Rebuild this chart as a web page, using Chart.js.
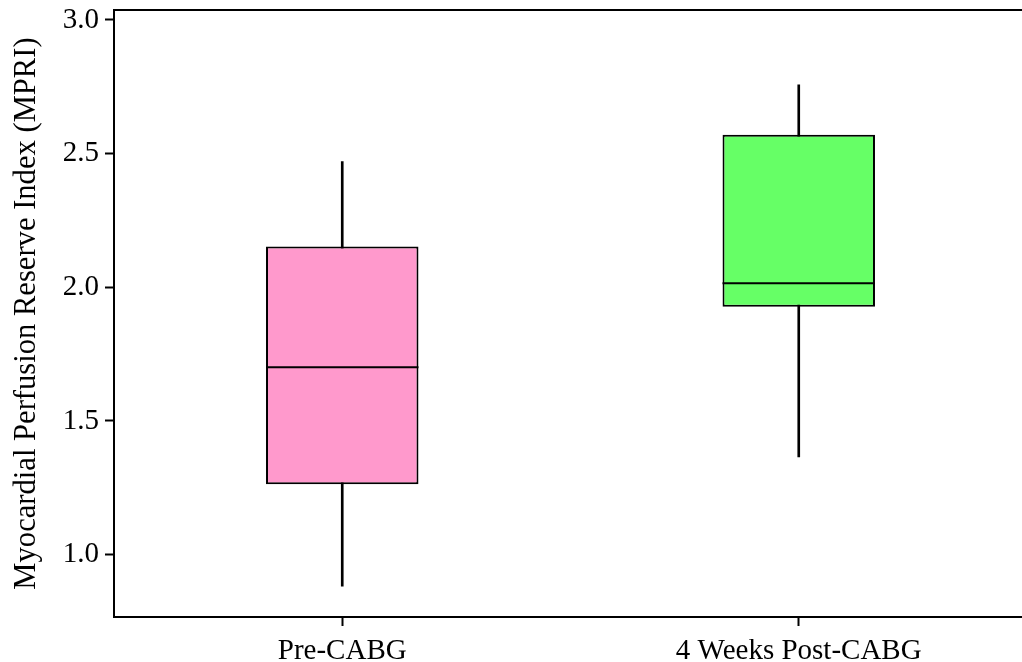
<!DOCTYPE html>
<html>
<head>
<meta charset="utf-8">
<script src="https://cdn.jsdelivr.net/npm/chart.js@4"></script>
<style>
  html, body { margin: 0; padding: 0; background: #fff; overflow: hidden; }
</style>
</head>
<body>
<canvas id="myChart" width="1027" height="662"></canvas>
<script>
var groups = ['Pre-CABG', '4 Weeks Post-CABG'];
var whiskerLow = [0.882, 1.365];
var q1 = [1.263, 1.927];
var medians = [1.701, 2.015];
var q3 = [2.152, 2.570];
var whiskerHigh = [2.470, 2.757];
var boxColors = ['#FF99CC', '#66FF66'];
var yTicks = [1.0, 1.5, 2.0, 2.5, 3.0];

var serif = '"Liberation Serif", "Times New Roman", serif';

// median lines and top frame line, placed with the chart's own scales
var boxExtras = {
    id: 'boxExtras',
    afterDatasetsDraw: function (chart) {
        var ctx = chart.ctx;
        var yScale = chart.scales.y;
        var meta = chart.getDatasetMeta(0);
        ctx.save();
        ctx.strokeStyle = '#000';
        ctx.lineWidth = 2;
        meta.data.forEach(function (bar, i) {
            var y = yScale.getPixelForValue(medians[i]);
            ctx.beginPath();
            ctx.moveTo(bar.x - bar.width / 2, y);
            ctx.lineTo(bar.x + bar.width / 2, y);
            ctx.stroke();
        });
        var area = chart.chartArea;
        ctx.beginPath();
        ctx.moveTo(area.left - 1, area.top);
        ctx.lineTo(area.right, area.top);
        ctx.stroke();
        ctx.restore();
    }
};

var ctx = document.getElementById('myChart').getContext('2d');
var myChart = new Chart(ctx, {
    type: 'bar',
    data: {
        labels: groups,
        datasets: [{
            label: 'IQR',
            data: groups.map((g, i) => [q1[i], q3[i]]),
            backgroundColor: boxColors,
            borderColor: '#000',
            borderWidth: 2,
            borderSkipped: false,
            grouped: false,
            categoryPercentage: 1,
            barPercentage: 0.334,
            order: 0
        }, {
            label: 'Range',
            data: groups.map((g, i) => [whiskerLow[i], whiskerHigh[i]]),
            backgroundColor: '#000',
            borderWidth: 0,
            grouped: false,
            barThickness: 2,
            order: 1
        }]
    },
    options: {
        responsive: false,
        animation: false,
        layout: { padding: { top: 10, right: 0, left: 0, bottom: 0 } },
        plugins: {
            legend: { display: false },
            tooltip: { enabled: false }
        },
        scales: {
            x: {
                grid: {
                    offset: false,
                    drawOnChartArea: false,
                    tickLength: 9,
                    tickWidth: 2,
                    tickColor: '#000'
                },
                border: { color: '#000', width: 2 },
                ticks: {
                    color: '#000',
                    padding: 8,
                    maxRotation: 0,
                    font: { family: serif, size: 29 }
                },
                afterFit: function (scale) {
                    scale.height = 45;
                    scale.paddingLeft = 0;
                    scale.paddingRight = 0;
                }
            },
            y: {
                min: 0.7665,
                max: 3.037,
                afterBuildTicks: function (scale) {
                    scale.ticks = yTicks.map(v => ({ value: v }));
                },
                grid: {
                    drawOnChartArea: false,
                    tickLength: 9,
                    tickWidth: 2,
                    tickColor: '#000'
                },
                border: { color: '#000', width: 2 },
                ticks: {
                    color: '#000',
                    padding: 6,
                    font: { family: serif, size: 29 },
                    callback: function (v) { return Number(v).toFixed(1); }
                },
                title: {
                    display: true,
                    text: 'Myocardial Perfusion Reserve Index (MPRI)',
                    color: '#000',
                    padding: { top: 9, bottom: 0 },
                    font: { family: serif, size: 30.6 }
                },
                afterFit: function (scale) {
                    scale.width = 114;
                    scale.paddingTop = 0;
                    scale.paddingBottom = 0;
                }
            }
        }
    },
    plugins: [boxExtras]
});
</script>
</body>
</html>
